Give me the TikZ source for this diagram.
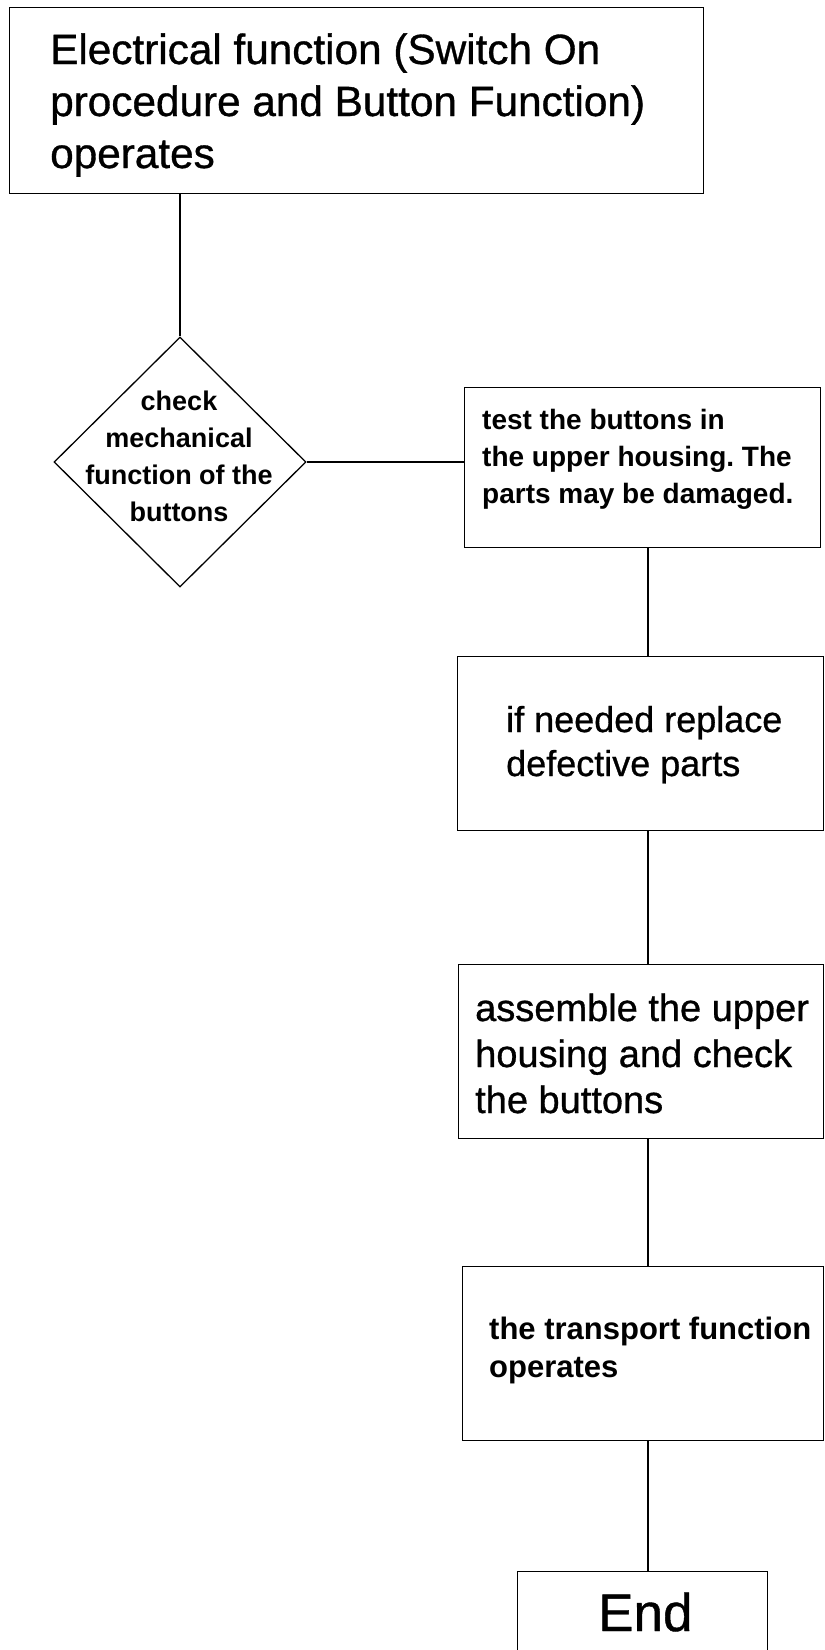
\documentclass[tikz,border=0pt]{standalone}
\usepackage{fontspec}
\setmainfont{Liberation Sans}
\newfontfamily\medfont[FakeBold=0.8]{Liberation Sans}
\usetikzlibrary{shapes.geometric}
\frenchspacing
\tikzset{
  box/.style={draw, line width=1.3pt, rectangle, inner sep=0pt, anchor=north west},
  dia/.style={draw, line width=1.3pt, diamond, inner sep=0pt, aspect=1},
  txt/.style={anchor=base west, inner sep=0pt},
  conn/.style={line width=1.3pt},
}
\begin{document}
\begin{tikzpicture}[x=1pt,y=-1pt]
\useasboundingbox (0,0) rectangle (825,1650);
% boxes
\node[box, minimum width=694pt, minimum height=186pt] (top) at (9,7) {};
\node[dia, minimum width=252pt, minimum height=250pt] (d) at (180,462) {};
\node[box, minimum width=356pt, minimum height=160pt] (b2) at (464,387) {};
\node[box, minimum width=366pt, minimum height=174pt] (b3) at (457,656) {};
\node[box, minimum width=365pt, minimum height=174pt] (b4) at (458,964) {};
\node[box, minimum width=361pt, minimum height=174pt] (b5) at (462,1266) {};
\node[box, minimum width=250pt, minimum height=150pt] (end) at (517,1571) {};
% texts
\node[txt] (t1) at (50,64) {\parbox[t]{650pt}{\raggedright\fontsize{42.3}{52}\medfont Electrical function (Switch On\\procedure and Button Function)\\operates}};
\node[anchor=base, inner sep=0pt] (td) at (179,410) {\parbox[t]{240pt}{\centering\fontsize{27}{37.3}\selectfont\bfseries check\\mechanical\\function of the\\buttons}};
\node[txt] (t2) at (482,429) {\parbox[t]{335pt}{\raggedright\fontsize{28}{37}\selectfont\bfseries test the buttons in\\the upper housing. The\\parts may be damaged.}};
\node[txt] (t3) at (506,732) {\parbox[t]{310pt}{\raggedright\fontsize{36}{44}\medfont if needed replace\\defective parts}};
\node[txt] (t4) at (475,1021) {\parbox[t]{345pt}{\raggedright\fontsize{38}{46}\medfont assemble the upper\\housing and check\\the buttons}};
\node[txt] (t5) at (489,1339) {\parbox[t]{335pt}{\raggedright\fontsize{31}{38}\selectfont\bfseries the transport function\\operates}};
\node[txt] (te) at (598,1631) {\fontsize{53}{60}\medfont End};
% connectors
\coordinate (col) at (648,0);
\draw[conn] (d.north |- top.south) -- (d.north);
\draw[conn] (d.east) -- (d.east -| b2.west);
\draw[conn] (col |- b2.south) -- (col |- b3.north);
\draw[conn] (col |- b3.south) -- (col |- b4.north);
\draw[conn] (col |- b4.south) -- (col |- b5.north);
\draw[conn] (col |- b5.south) -- (col |- end.north);
\end{tikzpicture}
\end{document}
